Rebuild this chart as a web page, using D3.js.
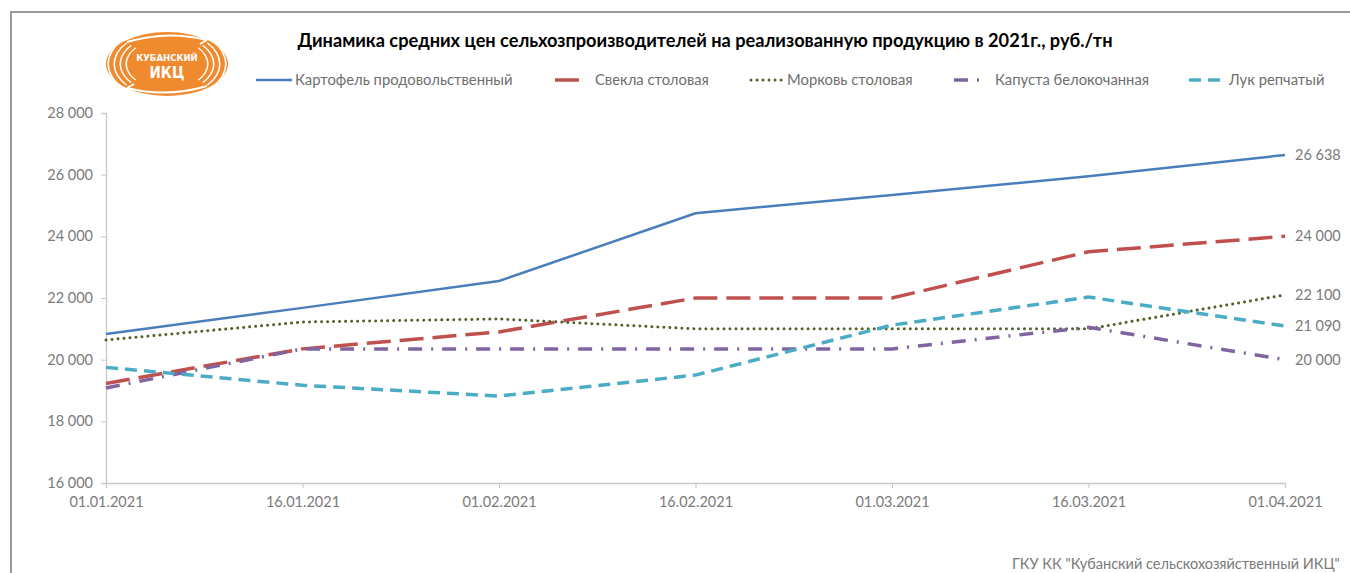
<!DOCTYPE html>
<html>
<head>
<meta charset="utf-8">
<script src="https://cdn.jsdelivr.net/npm/d3@7/dist/d3.min.js"></script>
<style>
  body { margin: 0; background: #fff; }
  svg text { font-family: Lato, "Open Sans", sans-serif; }
</style>
</head>
<body>
<div id="chart"></div>
<script>
// values
const dates = ['01.01.2021', '16.01.2021', '01.02.2021', '16.02.2021', '01.03.2021', '16.03.2021', '01.04.2021'];
const yTicks = [16000, 18000, 20000, 22000, 24000, 26000, 28000];

const seriesNames = ['Картофель продовольственный', 'Свекла столовая', 'Морковь столовая', 'Капуста белокочанная', 'Лук репчатый'];
const potato  = [20830, 21680, 22550, 24750, 25340, 25950, 26638];
const beet    = [19230, 20350, 20900, 22000, 22000, 23500, 24000];
const carrot  = [20640, 21220, 21320, 21000, 21000, 21000, 22100];
const cabbage = [19080, 20350, 20350, 20350, 20350, 21050, 20000];
const onion   = [19750, 19170, 18820, 19500, 21120, 22030, 21090];

const titleText = 'Динамика средних цен сельхозпроизводителей на реализованную продукцию в 2021г., руб./тн';
const footerText = 'ГКУ КК "Кубанский сельскохозяйственный ИКЦ"';

const width = 1350, height = 573;
const margin = {top: 113, right: 65, bottom: 90, left: 106};

const styles = [
    {color: '#4a7ebb', w: 2.5, dash: null,          cap: 'butt'},
    {color: '#c0504d', w: 3.5, dash: '24,9',        cap: 'butt'},
    {color: '#4f6228', w: 3,   dash: '0.01,6',      cap: 'round'},
    {color: '#8064a2', w: 3.5, dash: '14,9,2,9',    cap: 'butt'},
    {color: '#4bacc6', w: 3.5, dash: '12,7',        cap: 'butt'}
];
// legend sample [x1, x2] and text x
const legendPos = [[256, 292, 295], [555, 579, 595], [751, 783, 787], [954, 980, 995], [1189, 1225, 1229]];

const allSeries = [potato, beet, carrot, cabbage, onion];

let svg = d3.select('#chart').append('svg')
    .attr('width', width)
    .attr('height', height);

// outer frame
svg.append('rect')
    .attr('x', 11).attr('y', 12)
    .attr('width', 1400).attr('height', 700)
    .attr('fill', 'none')
    .attr('stroke', '#9a9a9a')
    .attr('stroke-width', 2);

let x = d3.scalePoint()
    .domain(dates)
    .range([margin.left, width - margin.right]);

let y = d3.scaleLinear()
    .domain([16000, 28000])
    .range([height - margin.bottom, margin.top]);

let fmt = (v) => d3.format(',')(v).replace(/,/g, '\u00a0');

// axes
let yAxis = svg.append('g')
    .attr('transform', 'translate(' + margin.left + ',0)')
    .call(d3.axisLeft(y).tickValues(yTicks).tickSize(5).tickPadding(8).tickFormat(fmt));

let xAxis = svg.append('g')
    .attr('transform', 'translate(0,' + y(16000) + ')')
    .call(d3.axisBottom(x).tickSize(5).tickPadding(9));

[yAxis, xAxis].forEach((a) => {
    a.select('.domain').attr('stroke', '#c8c8c8').attr('stroke-width', 1.3);
    a.selectAll('.tick line').attr('stroke', '#c8c8c8');
    a.selectAll('.tick text')
        .attr('fill', '#7a7a7a')
        .style('font-size', '14.5px')
        .style('font-family', 'Lato, sans-serif');
});

// series lines
let lineFunc = d3.line()
    .x((d, i) => x(dates[i]))
    .y((d) => y(d));

allSeries.forEach((s, k) => {
    svg.append('path')
        .attr('d', lineFunc(s))
        .attr('fill', 'none')
        .attr('stroke', styles[k].color)
        .attr('stroke-width', styles[k].w)
        .attr('stroke-dasharray', styles[k].dash)
        .attr('stroke-linecap', styles[k].cap);
});

// end value labels
allSeries.forEach((s) => {
    let last = s[s.length - 1];
    svg.append('text')
        .attr('x', x(dates[dates.length - 1]) + 10)
        .attr('y', y(last))
        .attr('dy', '0.35em')
        .attr('fill', '#7a7a7a')
        .style('font-size', '14.5px')
        .text(fmt(last));
});

// title
svg.append('text')
    .attr('x', 705).attr('y', 47)
    .attr('text-anchor', 'middle')
    .attr('fill', '#000')
    .style('font-size', '18.2px')
    .style('font-weight', 'bold')
    .text(titleText);

// legend
seriesNames.forEach((name, k) => {
    let p = legendPos[k];
    svg.append('line')
        .attr('x1', p[0]).attr('x2', p[1])
        .attr('y1', 80).attr('y2', 80)
        .attr('stroke', styles[k].color)
        .attr('stroke-width', styles[k].w)
        .attr('stroke-dasharray', styles[k].dash)
        .attr('stroke-linecap', styles[k].cap);
    svg.append('text')
        .attr('x', p[2]).attr('y', 80)
        .attr('dy', '0.35em')
        .attr('fill', '#6e6e6e')
        .style('font-size', '14.8px')
        .text(name);
});

// footer
svg.append('text')
    .attr('x', 1340).attr('y', 564)
    .attr('dy', '0.35em')
    .attr('text-anchor', 'end')
    .attr('fill', '#7a7a7a')
    .style('font-size', '14.5px')
    .text(footerText);

// logo (rough drawing of the orange emblem)
let logo = svg.append('g').attr('transform', 'translate(167,64)');
logo.append('ellipse')
    .attr('rx', 61).attr('ry', 32)
    .attr('fill', '#ef8a2f');
// white wheat-like stripes on both sides
[-1, 1].forEach((side) => {
    [0, 1, 2, 3].forEach((j) => {
        let r = 40 + j * 6;
        logo.append('path')
            .attr('d', d3.arc()({innerRadius: r, outerRadius: r + 1.6,
                startAngle: side * Math.PI / 2 - 0.7, endAngle: side * Math.PI / 2 + 0.7}))
            .attr('transform', 'scale(1,0.62)')
            .attr('fill', '#fff');
    });
});
// arrow gaps top and bottom
logo.append('path')
    .attr('d', 'M-40,-22 Q0,-34 40,-24 L34,-28 M40,-24 L33,-20')
    .attr('fill', 'none').attr('stroke', '#fff').attr('stroke-width', 2);
logo.append('path')
    .attr('d', 'M40,22 Q0,34 -40,24 L-34,28 M-40,24 L-33,20')
    .attr('fill', 'none').attr('stroke', '#fff').attr('stroke-width', 2);
logo.append('text')
    .attr('y', -3).attr('text-anchor', 'middle')
    .attr('fill', '#fff')
    .style('font-size', '9.5px').style('font-weight', 'bold')
    .style('font-family', '"DejaVu Sans Condensed", "Liberation Sans Narrow", sans-serif')
    .text('КУБАНСКИЙ');
logo.append('text')
    .attr('y', 14).attr('text-anchor', 'middle')
    .attr('fill', '#fff')
    .style('font-size', '15px').style('font-weight', 'bold')
    .style('font-family', '"DejaVu Sans Condensed", "Liberation Sans Narrow", sans-serif')
    .text('ИКЦ');
</script>
</body>
</html>
